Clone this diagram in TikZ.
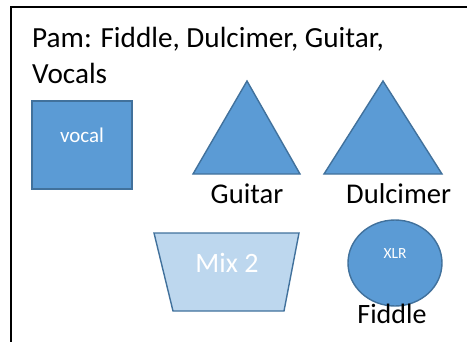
\documentclass[tikz,border=0pt]{standalone}
\usepackage{fontspec}
\setmainfont{Carlito}
\definecolor{shapefill}{HTML}{5B9BD5}
\definecolor{shapeline}{HTML}{41719C}
\definecolor{mixfill}{HTML}{BDD7EE}
\begin{document}
\begin{tikzpicture}[x=1pt,y=-1pt,
  shp/.style={draw=shapeline,fill=shapefill,line width=1.4pt,line join=miter},
  big/.style={font=\fontsize{28.6}{33}\selectfont,inner sep=0pt,anchor=base},
  white/.style={text=white,inner sep=0pt,anchor=base}]
\useasboundingbox (0,0) rectangle (467,341);
\begin{scope}
\clip (0,0) rectangle (467,341);
\draw[line width=1.8pt] (11,7) rectangle (490,370);
\end{scope}
% title
\node[big,font=\fontsize{29.2}{33}\selectfont,anchor=base west] (t1) at (32,47) {Pam: Fiddle, Dulcimer, Guitar,};
\node[big,font=\fontsize{29.2}{33}\selectfont,anchor=base west] (t2) at (32,83) {Vocals};
% vocal box
\draw[shp] (32,101) rectangle (132,189);
\node[white,font=\fontsize{21}{24}\selectfont] (vocal) at (82,142) {vocal};
% guitar triangle
\draw[shp] (247,81) -- (300,174) -- (193,174) -- cycle;
\node[big] (guitar) at (247,203) {Guitar};
% dulcimer triangle
\draw[shp] (383,81) -- (442,174) -- (324,174) -- cycle;
\node[big,anchor=base west] (dulc) at (346,203) {Dulcimer};
% mix trapezoid
\draw[shp,fill=mixfill] (154,233) -- (299,233) -- (284,311) -- (173,311) -- cycle;
\node[white,font=\fontsize{28}{33}\selectfont] (mix) at (227,272) {Mix 2};
% XLR ellipse
\draw[shp] (395,263) ellipse [x radius=47, y radius=43];
\node[white,font=\fontsize{15.5}{18}\selectfont] (xlr) at (395,258) {XLR};
\node[big,font=\fontsize{28}{33}\selectfont] (fiddle) at (392,323) {Fiddle};
\end{tikzpicture}
\end{document}
